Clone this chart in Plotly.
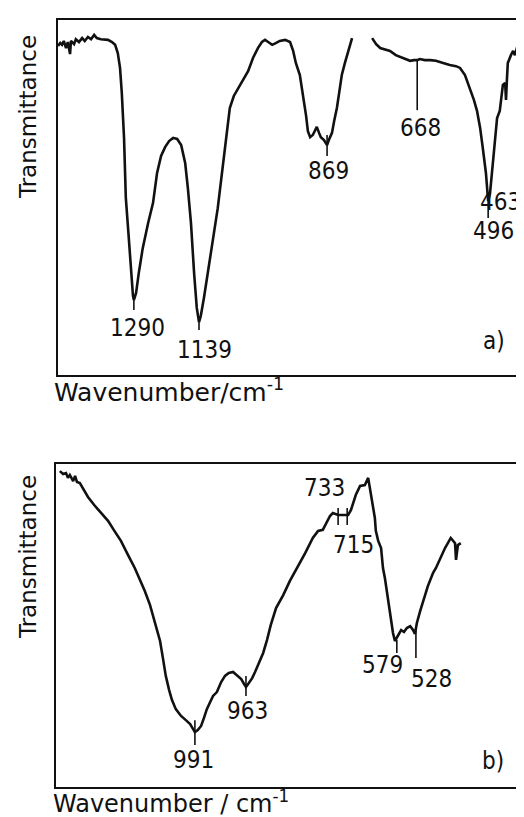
import plotly.graph_objects as go

# ---------------- Panel a) spectrum (wavenumber / cm-1, transmittance %) ----------------
wn_a = [1460, 1455, 1451, 1447, 1442, 1438, 1433, 1431, 1424, 1420, 1413, 1406, 1400, 1393, 1386,
        1379, 1373, 1364, 1348, 1339, 1332, 1326, 1321, 1317, 1312, 1308, 1303, 1296, 1292, 1290,
        1285, 1279, 1270, 1258, 1247, 1238, 1229, 1220, 1211, 1202, 1193, 1184, 1175, 1169, 1162,
        1155, 1149, 1144, 1140, 1133, 1124, 1113, 1102, 1093, 1084, 1075, 1066, 1050, 1034, 1023,
        1012, 1003, 996, 989, 980, 972, 963, 951, 940, 933, 927, 918, 911, 904, 900,
        895, 889, 884, 880, 875, 871, 864, 857, 853, 846, 841, 835, 830, 824, 817,
        810, 801, None,
        756, 747, 738, 727, 716, 703, 687, 671, 662, 655, 649, 638, 626, 613, 597,
        582, 568, 559, 548, 537, 528, 521, 514, 508, 501, 496, 492, 488, 483, 476,
        470, 463, 458, 456, 454, 452, 445, 440, 436, 431, 427, 422, 418, 414, 409,
        405, 402]
T_a = [92.7, 93.5, 93.0, 94.1, 92.1, 93.8, 90.4, 94.1, 93.2, 94.6, 93.8, 94.9, 94.1, 95.2, 94.6,
       95.8, 94.9, 94.6, 94.4, 93.8, 93.0, 90.7, 86.5, 79.4, 66.8, 49.9, 41.4, 28.7, 22.3, 21.1,
       23.1, 28.7, 35.8, 42.8, 48.5, 56.9, 61.7, 64.2, 65.9, 66.8, 66.5, 64.8, 59.7, 52.7, 42.8,
       28.7, 18.9, 14.9, 16.6, 21.7, 29.6, 38.0, 47.0, 56.9, 66.8, 75.2, 78.6, 82.0, 85.6, 89.3,
       92.1, 93.8, 94.4, 93.8, 93.0, 93.5, 94.1, 94.4, 93.8, 91.3, 87.9, 84.5, 78.9, 73.0, 68.7,
       67.0, 67.6, 69.0, 69.9, 68.2, 67.0, 66.2, 64.8, 66.2, 68.2, 71.6, 75.2, 79.4, 84.5, 87.9,
       91.3, 94.9, None,
       94.9, 93.2, 92.1, 91.6, 91.3, 90.1, 89.3, 88.5, 88.7, 88.7, 89.0, 88.7, 88.7, 88.5, 87.9,
       87.3, 87.0, 86.5, 84.5, 80.8, 77.5, 74.4, 69.6, 63.9, 56.9, 49.0, 51.0, 56.3, 63.9, 72.4,
       74.4, 81.7, 82.3, 77.5, 83.1, 87.9, 90.1, 91.3, 90.1, 92.4, 90.7, 93.0, 91.3, 93.2, 92.1,
       93.8, 94.1]

# peak marker ticks (position, top, bottom) and labels for panel a)
tick_a_x = [1290, 1144, 857, 655, 496]
tick_a_top = [21.7, 15.5, 67.6, 88.7, 49.0]
tick_a_bot = [18.3, 12.7, 61.7, 74.6, 44.2]
label_a_text = ["1290", "1139", "869", "668", "496", "463", "a)"]
label_a_x = [1281, 1131, 853, 647, 485, 468, 483]
label_a_y = [13.2, 7.0, 57.5, 69.6, 40.6, 48.7, 9.6]

# ---------------- Panel b) spectrum ----------------
wn_b = [1274, 1267, 1261, 1257, 1253, 1246, 1242, 1238, 1232, 1223, 1215, 1202, 1188, 1173, 1161,
        1146, 1131, 1117, 1106, 1096, 1085, 1075, 1064, 1058, 1052, 1045, 1039, 1031, 1020, 1010,
        1001, 995, 991, 985, 978, 972, 966, 959, 953, 945, 936, 928, 920, 911, 903,
        894, 888, 884, 878, 871, 865, 857, 848, 840, 832, 821, 806, 792, 777, 760,
        744, 733, 723, 708, 702, 691, 681, 670, 664, 654, 645, 635, 628, 622, 614,
        612, 607, 601, 597, 593, 587, 580, 576, 572, 566, 559, 553, 547, 540, 534,
        530, 526, 519, 511, 503, 492, 486, 467, 455, 446, 444, 440, 434]
T_b = [97.8, 96.9, 97.2, 95.7, 96.6, 94.7, 96.3, 94.4, 94.1, 91.6, 89.8, 87.3, 84.8, 82.4, 79.6,
       76.2, 71.8, 67.8, 64.1, 60.7, 56.3, 51.4, 45.2, 39.9, 34.4, 30.0, 26.9, 24.1, 22.0, 20.7,
       19.5, 18.0, 17.0, 17.6, 18.9, 21.4, 24.1, 26.3, 28.2, 29.4, 32.5, 34.4, 35.3, 35.6, 34.7,
       33.4, 31.9, 31.0, 32.2, 33.7, 35.6, 38.4, 41.5, 45.5, 50.2, 55.4, 59.4, 63.8, 67.8, 72.4,
       77.1, 79.3, 79.6, 83.9, 84.8, 84.2, 84.2, 84.2, 85.8, 90.4, 93.2, 93.5, 95.7, 90.4, 83.3,
       79.3, 76.2, 74.0, 67.8, 64.7, 58.5, 51.7, 47.7, 45.2, 46.7, 48.6, 48.0, 49.2, 49.8, 48.6,
       47.4, 50.8, 54.5, 58.5, 62.2, 66.3, 67.8, 74.0, 77.1, 75.5, 70.3, 74.9, 75.5]

tick_b_x = [991, 884, 691, 672, 568, 528]
tick_b_top = [20.7, 34.4, 86.4, 86.4, 45.5, 49.2]
tick_b_bot = [13.0, 28.2, 81.1, 81.1, 41.5, 39.9]
label_b_text = ["991", "963", "733", "715", "579", "528", "b)"]
label_b_x = [993, 880, 720, 658, 597, 496, 366]
label_b_y = [8.4, 23.5, 92.6, 74.9, 37.8, 33.4, 8.0]

y_title = "Transmittance"
x_title_a = "Wavenumber/cm<sup>-1</sup>"
x_title_b = "Wavenumber / cm<sup>-1</sup>"

INK = "#111111"
LABEL_FONT = dict(family="DejaVu Sans Condensed, DejaVu Sans, sans-serif", size=24, color=INK)
TITLE_FONT_A = dict(family="DejaVu Sans, sans-serif", size=25, color=INK)
TITLE_FONT_B = dict(family="DejaVu Sans, sans-serif", size=24, color=INK)
YTITLE_FONT = dict(family="DejaVu Sans, sans-serif", size=23, color=INK)


def seg(xs, tops, bots):
    X, Y = [], []
    for x, t, b in zip(xs, tops, bots):
        X += [x, x, None]
        Y += [t, b, None]
    return X, Y


fig = go.Figure()
fig.add_trace(go.Scatter(x=wn_a, y=T_a, mode="lines", line=dict(color=INK, width=2.6),
                         connectgaps=False, xaxis="x", yaxis="y", hoverinfo="skip"))
tx, ty = seg(tick_a_x, tick_a_top, tick_a_bot)
fig.add_trace(go.Scatter(x=tx, y=ty, mode="lines", line=dict(color=INK, width=1.6),
                         xaxis="x", yaxis="y", hoverinfo="skip"))
fig.add_trace(go.Scatter(x=wn_b, y=T_b, mode="lines", line=dict(color=INK, width=2.6),
                         xaxis="x2", yaxis="y2", hoverinfo="skip"))
tx, ty = seg(tick_b_x, tick_b_top, tick_b_bot)
fig.add_trace(go.Scatter(x=tx, y=ty, mode="lines", line=dict(color=INK, width=1.6),
                         xaxis="x2", yaxis="y2", hoverinfo="skip"))

W, H = 524, 817
ax_common = dict(showline=True, mirror=True, linecolor=INK, linewidth=2, ticks="",
                 showticklabels=False, showgrid=False, zeroline=False)

fig.update_layout(
    width=W, height=H, margin=dict(l=0, r=0, t=0, b=0),
    paper_bgcolor="white", plot_bgcolor="white", showlegend=False,
    xaxis=dict(domain=[50 / W, 523 / W], range=[1460, 400], anchor="y", **ax_common),
    yaxis=dict(domain=[1 - 367 / H, 1 - 12 / H], range=[0, 100], anchor="x", **ax_common),
    xaxis2=dict(domain=[48 / W, 522 / W], range=[1282, 289], anchor="y2", **ax_common),
    yaxis2=dict(domain=[1 - 779 / H, 1 - 456 / H], range=[0, 100], anchor="x2", **ax_common),
)

ann = []
for t, x, y in zip(label_a_text, label_a_x, label_a_y):
    ann.append(dict(text=t, x=x, y=y, xref="x", yref="y", showarrow=False, font=LABEL_FONT,
                    borderpad=0))
for t, x, y in zip(label_b_text, label_b_x, label_b_y):
    ann.append(dict(text=t, x=x, y=y, xref="x2", yref="y2", showarrow=False, font=LABEL_FONT,
                    borderpad=0))

ann.append(dict(text=y_title, textangle=-90, x=20 / W, y=1 - 109 / H, xref="paper", yref="paper",
                showarrow=False, font=YTITLE_FONT, xanchor="center", yanchor="middle"))
ann.append(dict(text=y_title, textangle=-90, x=20 / W, y=1 - 549 / H, xref="paper", yref="paper",
                showarrow=False, font=YTITLE_FONT, xanchor="center", yanchor="middle"))
ann.append(dict(text=x_title_a, x=44 / W, y=1 - 382 / H, xref="paper", yref="paper",
                showarrow=False, font=TITLE_FONT_A, xanchor="left", yanchor="middle"))
ann.append(dict(text=x_title_b, x=44 / W, y=6 / H, xref="paper", yref="paper", borderpad=0,
                showarrow=False, font=TITLE_FONT_B, xanchor="left", yanchor="bottom"))
fig.update_layout(annotations=ann)

fig.write_html("out.html")
